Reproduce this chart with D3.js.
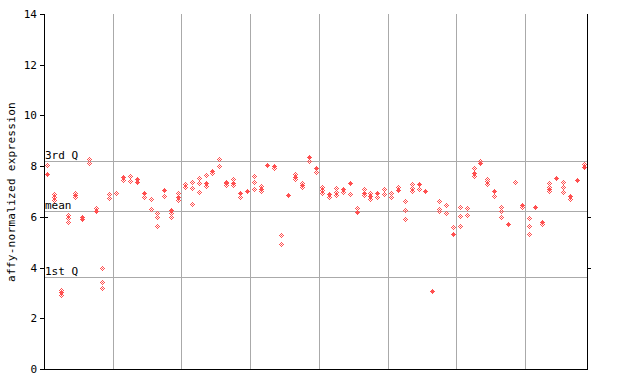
<!DOCTYPE html>
<html><head><meta charset="utf-8">
<script src="https://cdn.jsdelivr.net/npm/d3@7"></script>
<style>body{margin:0;background:#fff}svg{display:block}text{font-family:"DejaVu Sans Mono",monospace;font-size:11px;fill:#000}</style>
</head><body><svg id="c" width="640" height="384"></svg>
<script>
// Per-sample values (79 samples, left to right)
const solidValues = [
 [7.70],[],[3.02],[],[6.86],[5.99,5.93],[],[6.23],[],[],
 [],[7.58],[],[7.48,7.37],[6.93],[],[],[7.07],[6.27],[6.77],
 [],[],[],[7.32],[7.82],[],[7.32],[7.32],[6.95],[7.03],
 [],[7.10],[8.06],[8.00],[],[6.87],[7.58],[7.26],[8.35],[7.91],
 [],[6.90],[],[7.10],[7.32],[6.21],[6.95],[6.82],[6.93],[],
 [],[7.06],[],[],[7.31],[7.03],[3.09],[],[],[5.32],
 [],[],[7.72],[8.11],[],[7.03],[],[5.70],[],[6.48],
 [],[6.40],[5.81],[7.10],[7.54],[],[6.82],[7.45],[7.98]
];
const openValues = [
 [8.04],[6.92,6.78,6.65],[3.13,2.93],[6.07,5.94,5.81],[6.93,6.80],[],[8.27,8.14],[6.36],[3.98,3.43,3.19],[6.90,6.73],
 [6.93],[7.45],[7.61,7.43],[],[6.80],[6.69,6.30],[6.14,5.98,5.63],[6.81],[6.14,6.01],[6.93,6.65],
 [7.30,7.19],[7.37,7.12,6.49],[7.52,7.32,6.98],[7.65,7.22],[7.72],[8.27,7.99],[7.38,7.25],[7.48,7.24],[6.77],[],
 [7.61,7.37,7.09],[7.22,7.01],[],[7.93],[5.27,4.92],[],[7.68,7.49],[7.35,7.16],[8.19],[7.78],
 [7.19,7.06,6.93],[6.77],[7.12,6.99,6.86],[6.98],[6.90],[6.36],[7.10,6.87],[6.93,6.72],[6.80],[7.10,6.90],
 [6.93,6.80],[7.19],[6.61,6.26,5.90],[7.28,7.15,7.03],[7.09],[],[],[6.62,6.31,6.23],[6.45,6.14],[5.59],
 [6.37,6.02,5.63],[6.34,6.06],[7.91,7.61],[8.21],[7.50,7.40,7.30],[6.81],[6.37,6.23,5.98],[],[7.36],[6.37],
 [5.94,5.63,5.31],[],[5.70],[7.32,7.19,7.02],[],[7.37,7.18,6.97],[6.69],[],[8.08]
];
const yTicks = [0,2,4,6,8,10,12,14];
const refLines = [{label:"3rd Q", value:8.22},{label:"mean", value:6.23},{label:"1st Q", value:3.62}];
const groupBreaks = [10,20,30,40,50,60,70];
const yTitle = "affy-normalized expression";

const svg = d3.select("#c");
const L=44, R=587, T=14, B=369;
const x = d3.scaleBand().domain(d3.range(solidValues.length)).range([L,R]);
const y = d3.scaleLinear().domain([0,14]).range([B,T]);
const px = v => Math.round(v)+0.5;
const grey = "#aaaaaa", red = "#ff5050";

// vertical group lines
svg.append("g").selectAll("line").data(groupBreaks).join("line")
  .attr("x1",d=>px(x(d))).attr("x2",d=>px(x(d))).attr("y1",T).attr("y2",B)
  .attr("stroke",grey).attr("stroke-width",1).attr("shape-rendering","crispEdges");
// horizontal reference lines
svg.append("g").selectAll("line").data(refLines).join("line")
  .attr("x1",L).attr("x2",R).attr("y1",d=>px(y(d.value))).attr("y2",d=>px(y(d.value)))
  .attr("stroke",grey).attr("stroke-width",1).attr("shape-rendering","crispEdges");
svg.append("g").selectAll("text").data(refLines).join("text")
  .attr("x",L+1).attr("y",d=>Math.round(y(d.value))-2).text(d=>d.label);

// points drawn as pixel diamonds
const hw = [0,1,2,1,0];
function pixels(col, v, open){
  const cx = Math.round(x(col)+x.bandwidth()/2), cy = Math.round(y(v));
  const out=[];
  hw.forEach((w,k)=>{const dy=k-2;
    for(let dx=-w;dx<=w;dx++){ if(open && ((dx+dy)%2!==0)) continue; out.push([cx+dx,cy+dy]); }
  });
  return out;
}
const openPix=[], solidPix=[];
openValues.forEach((arr,i)=>arr.forEach(v=>openPix.push(...pixels(i,v,true))));
solidValues.forEach((arr,i)=>arr.forEach(v=>solidPix.push(...pixels(i,v,false))));
const pg = svg.append("g").attr("fill",red).attr("shape-rendering","crispEdges");
pg.selectAll("rect.o").data(openPix).join("rect").attr("class","o")
  .attr("x",d=>d[0]).attr("y",d=>d[1]).attr("width",1).attr("height",1);
pg.selectAll("rect.s").data(solidPix).join("rect").attr("class","s")
  .attr("x",d=>d[0]).attr("y",d=>d[1]).attr("width",1).attr("height",1);

// axes
const ax = svg.append("g").attr("stroke","#000").attr("shape-rendering","crispEdges");
ax.append("line").attr("x1",px(L)).attr("x2",px(L)).attr("y1",T).attr("y2",B+1);
ax.append("line").attr("x1",px(R)).attr("x2",px(R)).attr("y1",T).attr("y2",B+1);
ax.append("line").attr("x1",L).attr("x2",R+1).attr("y1",px(B)).attr("y2",px(B));
ax.selectAll("line.t").data(yTicks).join("line").attr("class","t")
  .attr("x1",L-4).attr("x2",L).attr("y1",d=>px(y(d))).attr("y2",d=>px(y(d)));
ax.selectAll("line.r").data([4,6]).join("line").attr("class","r")
  .attr("x1",R).attr("x2",R+4).attr("y1",d=>px(y(d))).attr("y2",d=>px(y(d)));
ax.selectAll("line.i").data([6]).join("line").attr("class","i")
  .attr("x1",L).attr("x2",L+4).attr("y1",d=>px(y(d))).attr("y2",d=>px(y(d)));
svg.append("g").selectAll("text").data(yTicks).join("text")
  .attr("x",37).attr("y",d=>y(d)+4).attr("text-anchor","end").text(d=>d);
svg.append("text").attr("transform","translate(15,192) rotate(-90)")
  .attr("text-anchor","middle").style("letter-spacing","0.3px").text(yTitle);
</script></body></html>
